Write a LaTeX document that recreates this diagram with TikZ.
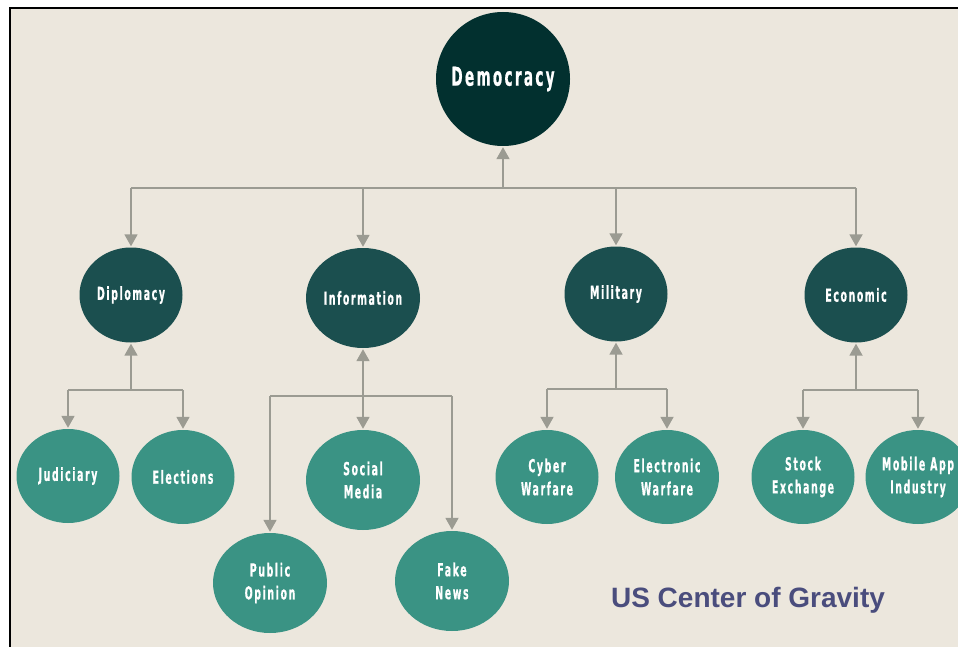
\documentclass[tikz,border=0pt]{standalone}
\usepackage{fontspec}
\usetikzlibrary{shapes.geometric,arrows.meta}
\setmainfont{Liberation Sans}
\newfontfamily\nodefont{DejaVu Sans}[FakeStretch=0.52,LetterSpace=9,FakeBold=0.6]

\definecolor{paper}{HTML}{ECE7DD}
\definecolor{rootfill}{HTML}{02302F}
\definecolor{branchfill}{HTML}{1B4F4F}
\definecolor{leaffill}{HTML}{3A9384}
\definecolor{linkgrey}{HTML}{9B9B92}
\definecolor{titleblue}{HTML}{4A4D7D}

\tikzset{
  bubble/.style={ellipse, inner sep=-40pt, text=white, align=center},
  rootnode/.style={bubble, fill=rootfill, minimum width=134pt, minimum height=134pt,
    font=\nodefont\bfseries\fontsize{26}{30}\selectfont},
  branchnode/.style={bubble, fill=branchfill, minimum width=103pt, minimum height=95pt,
    font=\nodefont\bfseries\fontsize{18}{22}\selectfont},
  leafnode/.style={bubble, fill=leaffill, minimum width=103pt, minimum height=94pt,
    font=\nodefont\bfseries\fontsize{18}{23}\selectfont},
  link/.style={draw=linkgrey, line width=1.8pt},
  arrowlink/.style={link, -{Triangle[width=13pt,length=12pt]}, shorten >=1pt},
}

\begin{document}
\begin{tikzpicture}[x=1pt,y=-1pt]
  \useasboundingbox (0,0) rectangle (958,647);
  \clip (0,0) rectangle (958,647);
  % page and frame
  \fill[white] (0,0) rectangle (958,647);
  \fill[paper] (10,8) rectangle (958,647);
  \draw[black, line width=2pt] (10,647) -- (10,8) -- (958,8);

  % root
  \node[rootnode] (dem) at (503,79) {Democracy};

  % branches
  \node[branchnode] (dip) at (131,295) {Diplomacy};
  \node[branchnode, minimum width=114pt, minimum height=100pt] (inf) at (363,298) {Information};
  \node[branchnode] (mil) at (616,294) {Military};
  \node[branchnode] (eco) at (856,295) {Economic};

  % leaves
  \node[leafnode] (jud) at (68,476) {Judiciary};
  \node[leafnode] (ele) at (183,477) {Elections};
  \node[leafnode, minimum width=114pt, minimum height=100pt] (soc) at (363,480) {Social\\Media};
  \node[leafnode, minimum width=114pt, minimum height=100pt] (pub) at (270,583) {Public\\Opinion};
  \node[leafnode, minimum width=114pt, minimum height=100pt] (fak) at (452,581) {Fake\\News};
  \node[leafnode] (cyb) at (547,477) {Cyber\\Warfare};
  \node[leafnode, minimum width=104pt] (elw) at (667,477) {Electronic\\Warfare};
  \node[leafnode] (stk) at (803,477) {Stock\\Exchange};
  \node[leafnode, minimum width=105pt] (mob) at (918,477) {Mobile App\\Industry};

  % title
  \node[text=titleblue, font=\bfseries\fontsize{28}{32}\selectfont] (ttl) at (748,600) {US Center of Gravity};

  % connectors: root level
  \coordinate (busA) at (503,188);
  \draw[link] (dip.north |- busA) -- (eco.north |- busA);
  \draw[arrowlink] (busA) -- (dem.south);
  \foreach \b in {dip,inf,mil,eco}
    \draw[arrowlink] (\b.north |- busA) -- (\b.north);

  % connectors: diplomacy
  \coordinate (busD) at (131,390);
  \draw[link] (jud.north |- busD) -- (ele.north |- busD);
  \draw[arrowlink] (busD) -- (dip.south);
  \foreach \b in {jud,ele}
    \draw[arrowlink] (\b.north |- busD) -- (\b.north);

  % connectors: information
  \coordinate (busI) at (363,396);
  \draw[link] (pub.north |- busI) -- (fak.north |- busI);
  \draw[arrowlink] (busI) -- (inf.south);
  \foreach \b in {soc,pub,fak}
    \draw[arrowlink] (\b.north |- busI) -- (\b.north);

  % connectors: military
  \coordinate (busM) at (616,389);
  \draw[link] (cyb.north |- busM) -- (elw.north |- busM);
  \draw[arrowlink] (busM) -- (mil.south);
  \foreach \b in {cyb,elw}
    \draw[arrowlink] (\b.north |- busM) -- (\b.north);

  % connectors: economic
  \coordinate (busE) at (856,390);
  \draw[link] (stk.north |- busE) -- (mob.north |- busE);
  \draw[arrowlink] (busE) -- (eco.south);
  \foreach \b in {stk,mob}
    \draw[arrowlink] (\b.north |- busE) -- (\b.north);
\end{tikzpicture}
\end{document}
